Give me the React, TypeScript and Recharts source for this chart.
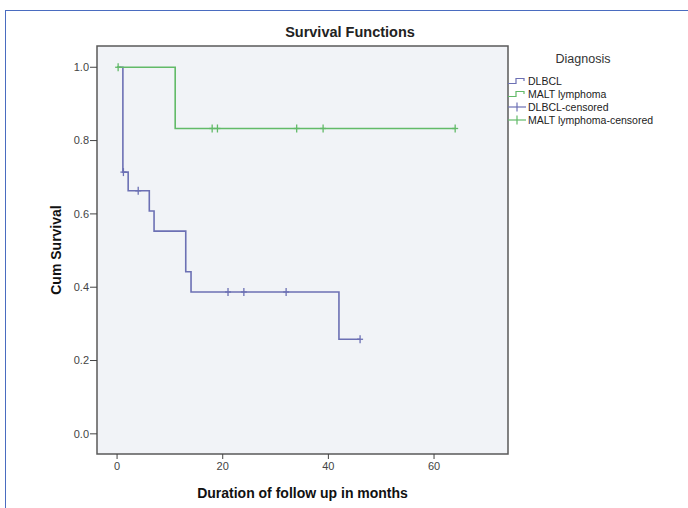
import { ComposedChart, Line, Scatter, XAxis, YAxis, ReferenceArea, Label } from "recharts"

// Kaplan-Meier steps (months, cumulative survival)
const dlbclTimes = [0, 1.1, 2.1, 6.1, 7, 13, 14, 42, 46]
const dlbclSurv = [1, 0.714, 0.663, 0.608, 0.553, 0.442, 0.387, 0.258, 0.258]
const dlbclCensorTimes = [1.2, 4, 21, 24, 32, 46]
const dlbclCensorSurv = [0.714, 0.663, 0.387, 0.387, 0.387, 0.258]

const maltTimes = [0, 11, 64]
const maltSurv = [1, 0.833, 0.833]
const maltCensorTimes = [0.2, 18, 19, 34, 39, 64]
const maltCensorSurv = [1, 0.833, 0.833, 0.833, 0.833, 0.833]

const xTicks = [0, 20, 40, 60]
const yTicks = [0, 0.2, 0.4, 0.6, 0.8, 1.0]

const legendItems = ["DLBCL", "MALT lymphoma", "DLBCL-censored", "MALT lymphoma-censored"]

const BLUE = "#6c70b4"
const GREEN = "#62ba68"
const FONT = "'Liberation Sans', Arial, sans-serif"

const zip = (t: number[], s: number[]) => t.map((v, i) => ({ t: v, s: s[i] }))

const dlbcl = zip(dlbclTimes, dlbclSurv)
const malt = zip(maltTimes, maltSurv)
const dlbclCens = zip(dlbclCensorTimes, dlbclCensorSurv)
const maltCens = zip(maltCensorTimes, maltCensorSurv)

const censorMark = (color: string) => (props: any) => {
  const { cx, cy } = props
  return (
    <g stroke={color} strokeWidth={1.3}>
      <line x1={cx} x2={cx} y1={cy - 4} y2={cy + 4} />
      <line x1={cx - 3} x2={cx + 3} y1={cy} y2={cy} />
    </g>
  )
}

function LegendIcon({ kind, color }: { kind: "step" | "censor"; color: string }) {
  if (kind === "step") {
    return (
      <svg width={20} height={10} style={{ display: "block" }}>
        <polyline points="1,7.5 9,7.5 9,2.5 17,2.5 17,5" fill="none" stroke={color} strokeWidth={1.2} />
      </svg>
    )
  }
  return (
    <svg width={20} height={10} style={{ display: "block" }}>
      <line x1={1} x2={19} y1={5} y2={5} stroke={color} strokeWidth={1.2} />
      <line x1={10} x2={10} y1={0.5} y2={9.5} stroke={color} strokeWidth={1.2} />
    </svg>
  )
}

export default function App() {
  const colors = [BLUE, GREEN, BLUE, GREEN]
  return (
    <div style={{ position: "absolute", left: 0, top: 0, width: 688, height: 508, background: "#fff", fontFamily: FONT, overflow: "hidden" }}>
      <div style={{ position: "absolute", left: 5, top: 10, width: 683, height: 498, borderLeft: "1.5px solid #4a6cc0", borderTop: "1.5px solid #4a6cc0", boxSizing: "border-box" }} />
      <div style={{ position: "absolute", left: 250, width: 200, top: 24, textAlign: "center", fontWeight: "bold", fontSize: 14.5, color: "#222" }}>
        Survival Functions
      </div>

      <div style={{ position: "absolute", left: 0, top: 0 }}>
        <ComposedChart width={688} height={508} margin={{ top: 46, right: 180, bottom: 4, left: 0 }}>
          <XAxis
            dataKey="t"
            type="number"
            domain={[-3.8, 74]}
            ticks={xTicks}
            allowDataOverflow
            tickSize={5}
            tickMargin={3}
            height={50}
            axisLine={false}
            tickLine={{ stroke: "#444" }}
            tick={{ fontSize: 11, fill: "#444", fontFamily: FONT }}
          >
            <Label value="Duration of follow up in months" position="insideBottom" offset={6} style={{ fontSize: 14, fontWeight: "bold", fill: "#111", fontFamily: FONT }} />
          </XAxis>
          <YAxis
            dataKey="s"
            type="number"
            domain={[-0.055, 1.058]}
            ticks={yTicks}
            allowDataOverflow
            width={97}
            tickSize={7}
            tickMargin={1}
            axisLine={false}
            tickLine={{ stroke: "#444" }}
            tickFormatter={(v: number) => v.toFixed(1)}
            tick={{ fontSize: 11, fill: "#444", fontFamily: FONT }}
          >
            <Label
              value="Cum Survival"
              angle={-90}
              position="center"
              dx={8}
              style={{ fontSize: 14, fontWeight: "bold", fill: "#111", fontFamily: FONT }}
            />
          </YAxis>
          <ReferenceArea x1={-3.8} x2={74} y1={-0.055} y2={1.058} fill="#f1f3f7" fillOpacity={1} stroke="#5a5a5a" strokeWidth={1.5} ifOverflow="visible" />
          <Line data={dlbcl} dataKey="s" type="stepAfter" stroke={BLUE} strokeWidth={1.6} dot={false} activeDot={false} isAnimationActive={false} />
          <Line data={malt} dataKey="s" type="stepAfter" stroke={GREEN} strokeWidth={1.6} dot={false} activeDot={false} isAnimationActive={false} />
          <Scatter data={dlbclCens} dataKey="s" shape={censorMark(BLUE)} isAnimationActive={false} />
          <Scatter data={maltCens} dataKey="s" shape={censorMark(GREEN)} isAnimationActive={false} />
        </ComposedChart>
      </div>

      <div style={{ position: "absolute", left: 505, top: 52, width: 160 }}>
        <div style={{ position: "absolute", left: 40, width: 76, textAlign: "center", top: 0, fontSize: 12.5, color: "#333" }}>Diagnosis</div>
        {legendItems.map((name, i) => (
          <div key={name} style={{ position: "absolute", left: 2, top: 23 + i * 13, display: "flex", alignItems: "center", fontSize: 10.5, color: "#222", whiteSpace: "nowrap", lineHeight: "12px" }}>
            <LegendIcon kind={i < 2 ? "step" : "censor"} color={colors[i]} />
            <span style={{ marginLeft: 1 }}>{name}</span>
          </div>
        ))}
      </div>
    </div>
  )
}
